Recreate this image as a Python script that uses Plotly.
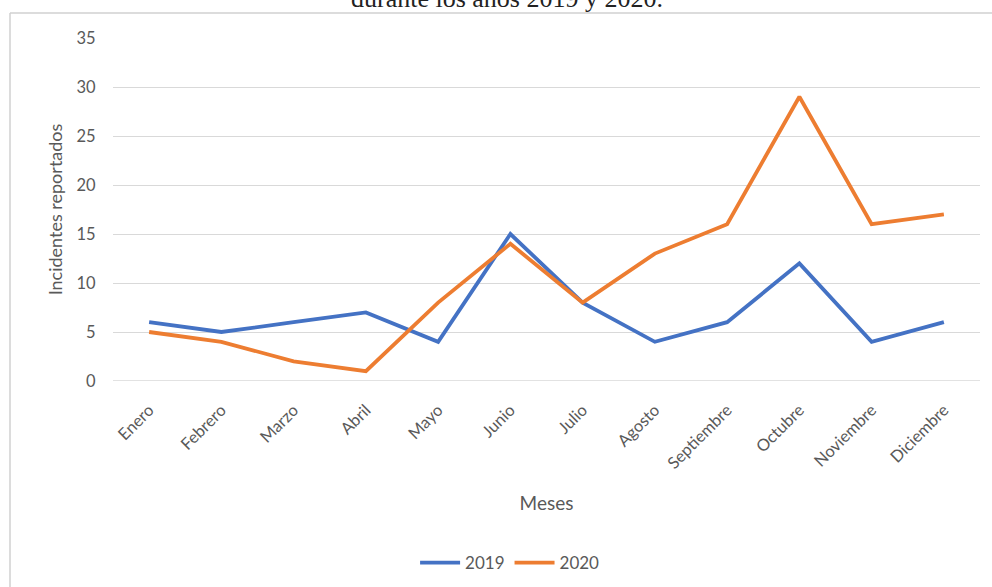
import plotly.graph_objects as go

meses = ["Enero", "Febrero", "Marzo", "Abril", "Mayo", "Junio", "Julio",
         "Agosto", "Septiembre", "Octubre", "Noviembre", "Diciembre"]
incidentes_2019 = [6, 5, 6, 7, 4, 15, 8, 4, 6, 12, 4, 6]
incidentes_2020 = [5, 4, 2, 1, 8, 14, 8, 13, 16, 29, 16, 17]
y_ticks = [0, 5, 10, 15, 20, 25, 30, 35]

TEXT = "#595959"
GRID = "#d9d9d9"
FONT = "Lato, Open Sans, sans-serif"

fig = go.Figure()
fig.add_trace(go.Scatter(x=meses, y=incidentes_2019, mode="lines", name="2019",
                         line=dict(color="#4472C4", width=3.8)))
fig.add_trace(go.Scatter(x=meses, y=incidentes_2020, mode="lines", name="2020",
                         line=dict(color="#ED7D31", width=3.8)))

fig.update_layout(
    width=992, height=587,
    margin=dict(l=113, r=12, t=38, b=206, autoexpand=False),
    paper_bgcolor="white", plot_bgcolor="white",
    font=dict(family=FONT, color=TEXT, size=15),
    showlegend=True,
    legend=dict(orientation="h", x=0.458, y=-0.531, xanchor="center", yanchor="middle",
                font=dict(size=17, color=TEXT), itemwidth=40, tracegroupgap=0),
    xaxis=dict(
        type="category", range=[-0.5, 11.5], tickangle=-45,
        showgrid=False, showline=False, zeroline=False,
        ticks="outside", ticklen=12, tickcolor="rgba(0,0,0,0)",
        tickfont=dict(size=16.5, color=TEXT),
        title=dict(text="Meses", font=dict(size=19, color=TEXT), standoff=24),
        automargin=False,
    ),
    yaxis=dict(
        range=[0, 35], tickvals=y_ticks, showgrid=True, gridcolor=GRID, gridwidth=1.3,
        zeroline=False, showline=False,
        ticks="outside", ticklen=13, tickcolor="rgba(0,0,0,0)",
        tickfont=dict(size=16.5, color=TEXT),
        title=dict(text="Incidentes reportados", font=dict(size=18, color=TEXT), standoff=9),
        automargin=False,
    ),
)

# baseline at zero drawn as a grid line too
fig.add_shape(type="line", xref="paper", yref="y", x0=0, x1=1, y0=0, y1=0,
              line=dict(color=GRID, width=1.3), layer="below")

# frame of the surrounding chart box (top and left edges)
fig.add_shape(type="line", xref="paper", yref="paper", x0=-0.1188, x1=1.02,
              y0=1.0731, y1=1.0731, line=dict(color="#d0d0d0", width=1.5))
fig.add_shape(type="line", xref="paper", yref="paper", x0=-0.1188, x1=-0.1188,
              y0=1.0731, y1=-0.65, line=dict(color="#d0d0d0", width=1.5))

# caption line above the chart box
fig.add_annotation(text="durante los años 2019 y 2020.", xref="paper", yref="paper",
                   x=0.454, y=1.115, xanchor="center", yanchor="middle", showarrow=False,
                   font=dict(family="Liberation Serif, serif", size=26, color="#222222"))

fig.write_html("out.html")
